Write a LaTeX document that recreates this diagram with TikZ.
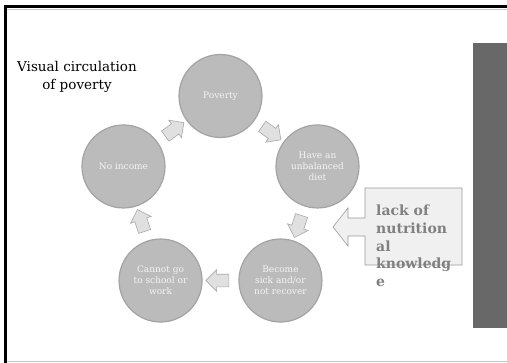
\documentclass[tikz,border=0pt]{standalone}
\usepackage{fontspec}
\setmainfont{DejaVu Serif}
\usetikzlibrary{shapes.arrows,calc}
\definecolor{ringgray}{HTML}{BBBBBB}
\definecolor{ringedge}{HTML}{A3A3A3}
\definecolor{arrowfill}{HTML}{E0E0E0}
\definecolor{arrowedge}{HTML}{A8A8A8}
\definecolor{calloutfill}{HTML}{F0F0F0}
\definecolor{calloutedge}{HTML}{9A9A9A}
\definecolor{lackgray}{HTML}{808080}
\definecolor{bargray}{HTML}{686868}
\definecolor{framegray}{HTML}{C8C8C8}

\begin{document}
\begin{tikzpicture}[x=1pt,y=1pt,
  stage/.style={circle,minimum size=83pt,inner sep=0pt,fill=ringgray,draw=ringedge,line width=1.2pt,
    text=white!96!black,align=center,font=\fontsize{9}{10.8}\selectfont},
  cyclearrow/.style={single arrow,minimum height=23pt,inner xsep=0pt,inner ysep=6pt,
    single arrow head extend=4.5pt,fill=arrowfill,draw=arrowedge,line width=0.6pt}]
\useasboundingbox (0,0) rectangle (507,363);
% frame
\draw[framegray,line width=1pt] (5,353.5) -- (507,353.5);
\draw[framegray,line width=1pt] (5,1.5) -- (507,1.5);
\draw[line width=3pt] (5.5,0) -- (5.5,356) -- (507,356);
\fill[bargray] (473,35) rectangle (507,320);

\node[align=center,font=\fontsize{13.5}{18}\selectfont] (title) at (77,286) {Visual circulation\\of poverty};

\coordinate (mid) at (220.5,165);
\foreach \n/\a/\t in {pov/90/Poverty, diet/18/{Have an\\unbalanced\\diet},
    sick/-54/{Become\\sick and/or\\not recover}, school/-126/{Cannot go\\to school or\\work},
    income/162/No income}{
  \node[stage] (\n) at ($(mid)+(\a:102)$) {\t};
}
\foreach \p/\q/\r in {pov/diet/-36, diet/sick/-108, sick/school/180, school/income/108, income/pov/36}{
  \node[cyclearrow,rotate=\r] (\p-\q) at ($(\p)!0.5!(\q)$) {};
}

% callout
\draw[calloutedge,fill=calloutfill,line width=0.6pt] (365,175) -- (462,175) -- (462,98) -- (365,98)
  -- (365,127) -- (348,127) -- (348,117) -- (333,136) -- (348,155) -- (348,145) -- (365,145) -- cycle;
\node[anchor=north west,inner sep=0pt,align=left,text=lackgray,font=\bfseries\fontsize{14}{17.7}\selectfont]
  (lack) at (376,158) {lack of\\nutrition\\al\\knowledg\\e};
\end{tikzpicture}
\end{document}
